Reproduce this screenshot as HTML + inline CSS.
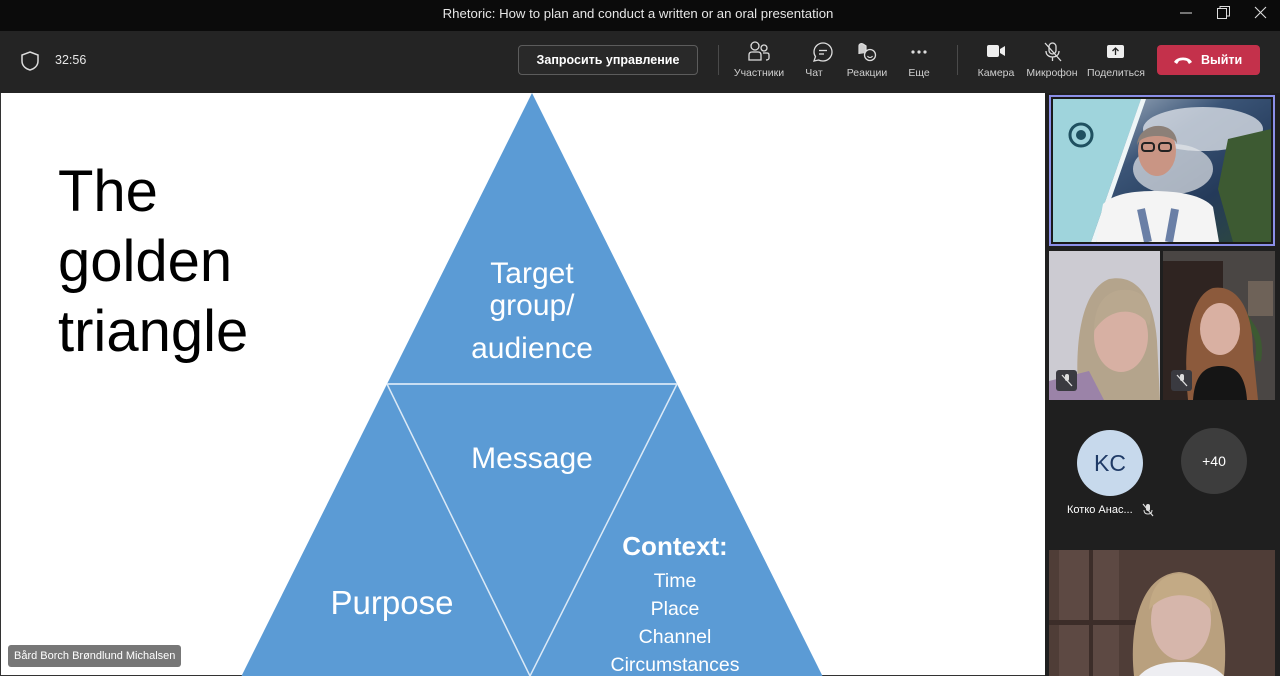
<!DOCTYPE html>
<html><head><meta charset="utf-8">
<style>
*{margin:0;padding:0;box-sizing:border-box}
html,body{width:1280px;height:676px;overflow:hidden;background:#1f1f1f;font-family:"Liberation Sans","DejaVu Sans",sans-serif}
.abs{position:absolute}
#titlebar{left:0;top:0;width:1280px;height:31px;background:#0b0b0b}
#title{left:0;top:6px;width:1276px;text-align:center;color:#e6e6e6;font-size:13.2px}
#toolbar{left:0;top:31px;width:1280px;height:62px;background:#242424}
.lbl{color:#cfcfcf;font-size:10.5px;text-align:center;width:80px}
.btn{left:518px;top:45px;width:180px;height:30px;border:1px solid #5c5c5c;border-radius:4px;background:#292929;color:#fff;font-weight:bold;font-size:12.5px;text-align:center;line-height:28px}
.div{width:1px;height:30px;background:#4a4a4a;top:45px}
#leave{left:1157px;top:45px;width:103px;height:30px;background:#c4314b;border-radius:4px;color:#fff;font-weight:bold;font-size:12.5px;line-height:30px}
#slide{left:0;top:93px;width:1045px;height:583px;background:#fff;border-left:1px solid #333;border-bottom:1px solid #333}
#panel{left:1045px;top:93px;width:235px;height:583px;background:#1f1f1f}
.t{font-size:58px;color:#000;left:57px;line-height:70px}
#nametag{left:8px;top:645px;height:22px;padding:0 6px;background:#777;border-radius:3px;color:#fff;font-size:11px;line-height:22px}
</style></head><body>

<div id="titlebar" class="abs"></div>
<div id="title" class="abs">Rhetoric: How to plan and conduct a written or an oral presentation</div>
<svg class="abs" style="left:1170px;top:0" width="110" height="31">
 <line x1="10" y1="13" x2="22" y2="13" stroke="#ddd" stroke-width="1"/>
 <rect x="47.5" y="8.5" width="9" height="10" fill="none" stroke="#ddd"/>
 <path d="M50 8.5 V6.5 H59.5 V16 H56.5" fill="none" stroke="#ddd"/>
 <path d="M85 7 L96 18 M96 7 L85 18" stroke="#ddd" stroke-width="1.1"/>
</svg>

<div id="toolbar" class="abs"></div>
<svg class="abs" style="left:20px;top:50px" width="20" height="22">
 <path d="M10 2 L18 5 V11 C18 16 14 19 10 20 C6 19 2 16 2 11 V5 Z" fill="none" stroke="#ddd" stroke-width="1.5"/>
</svg>
<div class="abs" style="left:55px;top:53px;color:#e6e6e6;font-size:12.5px">32:56</div>
<div class="abs btn">Запросить управление</div>
<div class="abs div" style="left:718px"></div>
<div class="abs div" style="left:957px"></div>

<svg class="abs" style="left:720px;top:40px" width="240" height="26">
 <circle cx="35" cy="6" r="4" fill="none" stroke="#ddd" stroke-width="1.3"/>
 <circle cx="44" cy="8" r="3" fill="none" stroke="#ddd" stroke-width="1.3"/>
 <path d="M29 20 V15 C29 13 30 12 32 12 H38 C40 12 41 13 41 15 V20 Z" fill="none" stroke="#ddd" stroke-width="1.3"/>
 <path d="M43 13 H47 C48.5 13 49 14 49 15 V18 C49 19 48 20 46 20" fill="none" stroke="#ddd" stroke-width="1.3"/>
 <path d="M94 21 L95.5 16.5 C94.3 15 94 13.5 94 12 C94 7 98 3 103 3 C108 3 112 7 112 12 C112 17 108 21 103 21 C101 21 99.5 20.5 98.5 20 Z" fill="none" stroke="#ddd" stroke-width="1.3"/>
 <line x1="99" y1="10.5" x2="107" y2="10.5" stroke="#ddd" stroke-width="1.3"/>
 <line x1="99" y1="14" x2="104" y2="14" stroke="#ddd" stroke-width="1.3"/>
 <path d="M139 14 V6 C139 4 141 3 143 4 L146 6 V13" fill="#ccc" stroke="#ddd" stroke-width="1.2"/>
 <circle cx="150" cy="15" r="5.5" fill="#242424" stroke="#ddd" stroke-width="1.3"/>
 <path d="M147.5 16 C148.5 18 151.5 18 152.5 16" fill="none" stroke="#ddd" stroke-width="1"/>
 <circle cx="193" cy="12" r="1.6" fill="#ddd"/><circle cx="199" cy="12" r="1.6" fill="#ddd"/><circle cx="205" cy="12" r="1.6" fill="#ddd"/>
</svg>
<div class="abs lbl" style="left:719px;top:67px">Участники</div>
<div class="abs lbl" style="left:774px;top:67px">Чат</div>
<div class="abs lbl" style="left:827px;top:67px">Реакции</div>
<div class="abs lbl" style="left:879px;top:67px">Еще</div>

<svg class="abs" style="left:970px;top:40px" width="170" height="26">
 <rect x="17" y="5" width="12" height="12" rx="2" fill="#eee"/>
 <path d="M30 9 L35 6 V16 L30 13 Z" fill="#eee"/>
 <rect x="79" y="3" width="7" height="11" rx="3.5" fill="none" stroke="#ddd" stroke-width="1.3"/>
 <path d="M76 11 C76 15 79 17 82.5 17 C86 17 89 15 89 11 M82.5 17 V21" fill="none" stroke="#ddd" stroke-width="1.3"/>
 <line x1="75" y1="3" x2="91" y2="21" stroke="#ddd" stroke-width="1.3"/>
 <rect x="137" y="5" width="17" height="13" rx="2" fill="#eee"/>
 <path d="M145.5 15 V8 M142.5 11 L145.5 8 L148.5 11" fill="none" stroke="#242424" stroke-width="1.3"/>
</svg>
<div class="abs lbl" style="left:956px;top:67px">Камера</div>
<div class="abs lbl" style="left:1012px;top:67px">Микрофон</div>
<div class="abs lbl" style="left:1076px;top:67px">Поделиться</div>

<div id="leave" class="abs">
 <svg class="abs" style="left:16px;top:10px" width="20" height="10"><path d="M1 7 C4 1 16 1 19 7 L16 9 L14 6 C11 5 9 5 6 6 L4 9 Z" fill="#fff"/></svg>
 <span class="abs" style="left:44px;top:0">Выйти</span>
</div>

<div id="slide" class="abs">
 <svg class="abs" style="left:-1px;top:0" width="1045" height="583">
  <polygon points="532,0 241.5,583 822.5,583" fill="#5b9bd5"/>
  <line x1="387" y1="291" x2="677" y2="291" stroke="#c8def3" stroke-width="2"/>
  <line x1="387" y1="291" x2="530" y2="583" stroke="#dbe9f6" stroke-width="1.5"/>
  <line x1="677" y1="291" x2="530" y2="583" stroke="#dbe9f6" stroke-width="1.5"/>
  <g fill="#fff" font-family="Liberation Sans, sans-serif" text-anchor="middle">
   <text x="532" y="190" font-size="30">Target</text>
   <text x="532" y="222" font-size="30">group/</text>
   <text x="532" y="265" font-size="30">audience</text>
   <text x="532" y="375" font-size="30">Message</text>
   <text x="392" y="521" font-size="33">Purpose</text>
   <text x="675" y="462" font-size="26" font-weight="bold">Context:</text>
   <text x="675" y="494" font-size="19.5">Time</text>
   <text x="675" y="522" font-size="19.5">Place</text>
   <text x="675" y="550" font-size="19.5">Channel</text>
   <text x="675" y="578" font-size="19.5">Circumstances</text>
  </g>
 </svg>
 <div class="abs t" style="top:64px">The</div>
 <div class="abs t" style="top:134px">golden</div>
 <div class="abs t" style="top:204px">triangle</div>
</div>
<div id="nametag" class="abs">Bård Borch Brøndlund Michalsen</div>

<div id="panel" class="abs"></div>

<div class="abs" style="left:1049px;top:95px;width:226px;height:151px;border:2px solid #8b8fe8;background:#1a1a1a"></div>
<svg class="abs" style="left:1053px;top:99px" width="218" height="143">
 <defs>
  <linearGradient id="sat" x1="0" y1="0" x2="1" y2="1">
   <stop offset="0" stop-color="#c9d3dc"/><stop offset="0.4" stop-color="#3b5577"/><stop offset="0.7" stop-color="#243a5a"/><stop offset="1" stop-color="#2e4a3a"/>
  </linearGradient>
 </defs>
 <rect width="218" height="143" fill="url(#sat)"/>
 <ellipse cx="150" cy="30" rx="60" ry="22" fill="#d9dfe6" opacity="0.8"/>
 <ellipse cx="120" cy="70" rx="40" ry="25" fill="#e2e6ea" opacity="0.7"/>
 <polygon points="175,40 218,30 218,143 180,143 165,90" fill="#3d5a32"/>
 <polygon points="0,0 88,0 38,143 0,143" fill="#9fd4dc"/>
 <polygon points="88,0 93,0 43,143 38,143" fill="#eef6f7"/>
 <circle cx="28" cy="36" r="11" fill="none" stroke="#1f5060" stroke-width="3"/>
 <circle cx="28" cy="36" r="5" fill="#1f5060"/>
 <path d="M43 143 L50 105 C60 95 80 92 100 92 C125 92 150 96 160 108 L166 143 Z" fill="#f4f4f4"/>
 <path d="M88 110 L95 143 M122 110 L116 143" stroke="#6a7fa6" stroke-width="8"/>
 <ellipse cx="104" cy="52" rx="19" ry="25" fill="#c99584"/>
 <path d="M84 47 C84 22 124 19 124 45 C122 35 86 33 84 47 Z" fill="#8c8078"/>
 <rect x="89" y="44" width="12" height="8" rx="3" fill="none" stroke="#222" stroke-width="2"/>
 <rect x="106" y="44" width="12" height="8" rx="3" fill="none" stroke="#222" stroke-width="2"/>
</svg>

<svg class="abs" style="left:1049px;top:251px" width="111" height="149">
 <rect width="111" height="149" fill="#cccbd2"/>
 <path d="M30 149 C25 100 30 40 60 28 C90 22 105 50 108 90 L111 149 Z" fill="#b4a48c"/>
 <ellipse cx="72" cy="85" rx="27" ry="36" fill="#d7b0a3"/>
 <path d="M45 80 C45 45 65 35 85 40 C100 45 105 60 100 75 C90 55 60 55 45 80 Z" fill="#b9a88f"/>
 <path d="M0 130 L40 120 L55 149 L0 149 Z" fill="#9b83a8"/>
 <rect x="7" y="119" width="21" height="21" rx="3" fill="#3a3a40"/>
 <path d="M13 124 L23 135" stroke="#ddd" stroke-width="1.3"/>
 <rect x="16" y="123" width="4" height="7" rx="2" fill="#ddd"/>
</svg>
<svg class="abs" style="left:1163px;top:251px" width="112" height="149">
 <rect width="112" height="149" fill="#4a4644"/>
 <rect x="0" y="10" width="60" height="139" fill="#2f2421"/>
 <rect x="85" y="30" width="25" height="35" fill="#6e6258"/>
 <path d="M80 60 C85 75 100 80 95 110" stroke="#3d5a32" stroke-width="6" fill="none"/>
 <path d="M25 149 C20 100 25 45 50 37 C75 33 90 60 90 100 L95 149 Z" fill="#8c5a3c"/>
 <ellipse cx="57" cy="78" rx="20" ry="26" fill="#d9b0a2"/>
 <path d="M30 149 C32 120 45 115 57 115 C70 115 82 120 84 149 Z" fill="#151515"/>
 <rect x="8" y="119" width="21" height="21" rx="3" fill="#3a3a40"/>
 <path d="M14 124 L24 135" stroke="#ddd" stroke-width="1.3"/>
 <rect x="17" y="123" width="4" height="7" rx="2" fill="#ddd"/>
</svg>

<div class="abs" style="left:1077px;top:430px;width:66px;height:66px;border-radius:50%;background:#c7d9ec;color:#1f3a66;font-size:23px;text-align:center;line-height:66px">KC</div>
<div class="abs" style="left:1181px;top:428px;width:66px;height:66px;border-radius:50%;background:#3d3d3d;color:#fff;font-size:14px;text-align:center;line-height:66px">+40</div>
<div class="abs" style="left:1067px;top:504px;color:#fff;font-size:11px">Котко Анас...</div>
<svg class="abs" style="left:1141px;top:503px" width="14" height="14">
 <rect x="5" y="1" width="4" height="7" rx="2" fill="#ddd"/>
 <path d="M3 7 C3 10 5 11 7 11 C9 11 11 10 11 7" fill="none" stroke="#ddd"/>
 <line x1="2" y1="1" x2="12" y2="13" stroke="#ddd" stroke-width="1.2"/>
</svg>

<svg class="abs" style="left:1049px;top:550px" width="226" height="126">
 <rect width="226" height="126" fill="#4f3d37"/>
 <rect x="10" y="0" width="60" height="126" fill="#5d4943"/>
 <rect x="40" y="0" width="4" height="126" fill="#3c2d29"/>
 <rect x="0" y="70" width="90" height="5" fill="#3c2d29"/>
 <path d="M85 126 C80 80 90 25 130 22 C170 25 180 80 175 126 Z" fill="#b9a07e"/>
 <ellipse cx="132" cy="70" rx="30" ry="40" fill="#d6b6ab"/>
 <path d="M100 60 C102 30 120 22 135 24 C155 26 165 45 163 62 C150 40 115 40 100 60 Z" fill="#c3aa85"/>
 <path d="M90 126 C100 115 115 112 132 112 C150 112 165 115 175 126 Z" fill="#eeeef2"/>
</svg>

</body></html>
